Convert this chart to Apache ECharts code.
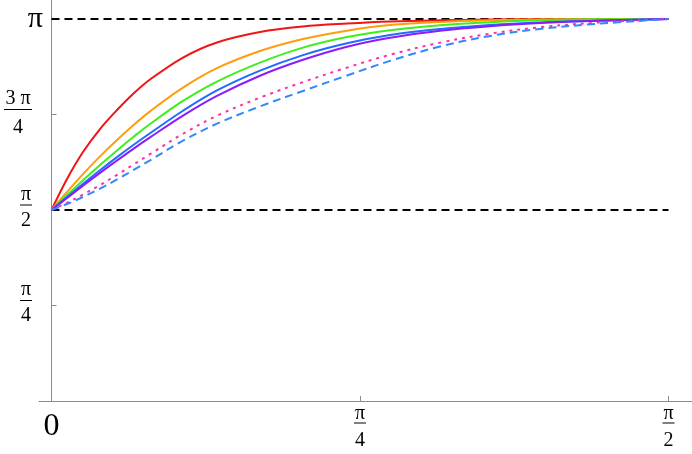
<!DOCTYPE html>
<html>
<head>
<meta charset="utf-8">
<script src="https://cdn.jsdelivr.net/npm/echarts@6/dist/echarts.min.js"></script>
<style>
  html, body { margin: 0; padding: 0; background: #fff; }
  #chart { width: 692px; height: 454px; }
</style>
</head>
<body>
<div id="chart"></div>
<script>
// sample points along x (radians)
const xVals = [0, 0.0395, 0.0802, 0.1235, 0.1668, 0.2075, 0.2508, 0.3348, 0.4213, 0.5308, 0.6403, 0.7523, 0.8618, 0.9891, 1.1163, 1.2436, 1.3887, 1.5708];

const redVals = [1.571, 1.826, 2.048, 2.237, 2.393, 2.525, 2.644, 2.825, 2.949, 3.035, 3.080, 3.104, 3.121, 3.131, 3.137, 3.140, 3.141, 3.1416];
const orangeVals = [1.571, 1.719, 1.866, 2.012, 2.147, 2.266, 2.382, 2.577, 2.737, 2.878, 2.977, 3.046, 3.092, 3.118, 3.131, 3.137, 3.140, 3.1416];
const greenVals = [1.571, 1.692, 1.815, 1.941, 2.061, 2.169, 2.278, 2.468, 2.627, 2.783, 2.906, 2.993, 3.050, 3.091, 3.116, 3.132, 3.139, 3.1416];
const blueVals = [1.571, 1.677, 1.786, 1.898, 2.006, 2.103, 2.202, 2.387, 2.554, 2.717, 2.845, 2.942, 3.010, 3.059, 3.092, 3.113, 3.127, 3.1416];
const purpleVals = [1.571, 1.669, 1.771, 1.876, 1.978, 2.072, 2.168, 2.347, 2.509, 2.675, 2.806, 2.914, 2.988, 3.046, 3.083, 3.108, 3.127, 3.1416];
const pinkVals = [1.571, 1.630, 1.698, 1.776, 1.860, 1.942, 2.030, 2.198, 2.346, 2.495, 2.623, 2.742, 2.848, 2.947, 3.021, 3.074, 3.112, 3.1416];
const skyVals = [1.571, 1.620, 1.678, 1.747, 1.822, 1.897, 1.979, 2.141, 2.281, 2.423, 2.550, 2.677, 2.797, 2.916, 3.002, 3.060, 3.102, 3.1416];

// dashed horizontal guides at pi/2 and pi, drawn from x=0 to x=pi/2
const guideX = [0, Math.PI / 2];
const guideLevels = [Math.PI / 2, Math.PI];

// ticks and their labels ("num|den" is a stacked fraction)
const xTicks = [0, Math.PI / 4, Math.PI / 2];
const xTickLabels = ["0", "π|4", "π|2"];
const yTicks = [Math.PI / 4, Math.PI / 2, 3 * Math.PI / 4, Math.PI];
const yTickLabels = ["π|4", "π|2", "3 π|4", "π"];

const FONT = "'Liberation Serif', 'DejaVu Serif', serif";
const AXIS_COLOR = "#8c8c8c";

const chart = echarts.init(document.getElementById("chart"), null, { renderer: "canvas" });

const findLabel = (ticks, labels, v) => {
  const i = ticks.findIndex((t) => Math.abs(t - v) < 1e-6);
  return i < 0 ? "" : labels[i];
};

const xFormatter = (v) => {
  const s = findLabel(xTicks, xTickLabels, v);
  if (s.indexOf("|") < 0) return "{big|" + s + "}";
  const [num, den] = s.split("|");
  return "{n|" + num + "}\n{b| }\n{d|" + den + "}";
};

const yFormatter = (v) => {
  const s = findLabel(yTicks, yTickLabels, v);
  if (s.indexOf("|") < 0) return "{big|" + s + "}";
  const [num, den] = s.split("|");
  const wide = num.length > 1;
  return "{n|" + num + "}{sp| }\n{" + (wide ? "bl" : "b") + "| }{sp| }\n{" + (wide ? "dl" : "d") + "|" + den + "}{sp| }";
};

const curve = (vals, color, type) => ({
  type: "line",
  data: xVals.map((x, i) => [x, vals[i]]),
  symbol: "none",
  smooth: 0.35,
  lineStyle: { color: color, width: 2, type: type || "solid", cap: "butt" },
  z: 3,
});

const series = guideLevels.map((lv) => ({
  type: "line",
  data: guideX.map((x) => [x, lv]),
  symbol: "none",
  lineStyle: { color: "#000", width: 2, type: [8, 5] },
  z: 2,
}));

series.push(
  curve(redVals, "#f01414"),
  curve(orangeVals, "#ff9d0a"),
  curve(greenVals, "#40ee1c"),
  curve(blueVals, "#1f6cff"),
  curve(purpleVals, "#8a1cff"),
  curve(pinkVals, "#ff2ea6", [3, 5]),
  curve(skyVals, "#3488ff", [8, 5])
);

const option = {
  animation: false,
  backgroundColor: "#fff",
  grid: {
    left: 39,
    right: 0,
    top: 0,
    bottom: 53,
    containLabel: false,
    outerBoundsMode: "none",
  },
  xAxis: {
    type: "value",
    min: -0.0318,
    max: 1.6306,
    axisLine: { show: true, onZero: true, lineStyle: { color: AXIS_COLOR, width: 1 } },
    axisTick: {
      show: true,
      inside: true,
      length: 5,
      customValues: xTicks,
      lineStyle: { color: AXIS_COLOR },
    },
    axisLabel: {
      customValues: xTicks,
      margin: 5,
      formatter: xFormatter,
      color: "#000",
      fontFamily: FONT,
      rich: {
        big: { fontSize: 32, lineHeight: 41, fontFamily: FONT, color: "#000", align: "center" },
        n: { fontSize: 20, lineHeight: 15, fontFamily: FONT, color: "#000", align: "center" },
        b: { fontSize: 4, lineHeight: 4, width: 12, height: 1, backgroundColor: "#000", align: "center" },
        d: { fontSize: 20, lineHeight: 31, fontFamily: FONT, color: "#000", align: "center" },
      },
    },
    splitLine: { show: false },
  },
  yAxis: {
    type: "value",
    min: 0,
    max: 3.298,
    axisLine: { show: true, onZero: true, lineStyle: { color: AXIS_COLOR, width: 1 } },
    axisTick: {
      show: true,
      inside: true,
      length: 5,
      customValues: yTicks,
      lineStyle: { color: AXIS_COLOR },
    },
    axisLabel: {
      customValues: yTicks,
      // labels sit against the grid edge, not the shifted axis line
      margin: -4,
      formatter: yFormatter,
      color: "#000",
      fontFamily: FONT,
      rich: {
        big: { fontSize: 30, lineHeight: 32, fontFamily: FONT, color: "#000", align: "center" },
        n: { fontSize: 20, lineHeight: 17, fontFamily: FONT, color: "#000", align: "center" },
        b: { fontSize: 4, lineHeight: 4, width: 12, height: 1, backgroundColor: "#000", align: "center" },
        bl: { fontSize: 4, lineHeight: 4, width: 28, height: 1, backgroundColor: "#000", align: "center" },
        d: { fontSize: 20, lineHeight: 27, fontFamily: FONT, color: "#000", align: "center" },
        dl: { fontSize: 20, lineHeight: 27, padding: [6, 0, 0, 0], fontFamily: FONT, color: "#000", align: "center" },
        sp: { fontSize: 4, width: 11, align: "right" },
      },
    },
    splitLine: { show: false },
  },
  series: series,
};

chart.setOption(option);
</script>
</body>
</html>
